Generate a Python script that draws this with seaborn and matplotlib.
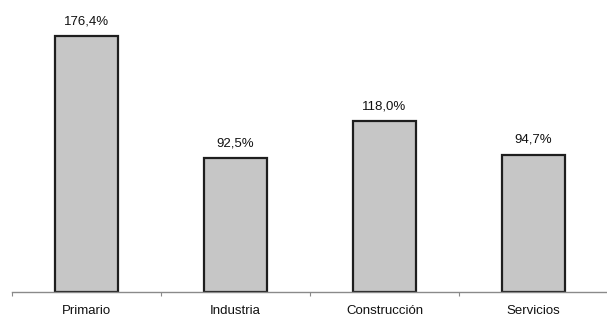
import matplotlib
matplotlib.use("Agg")
import matplotlib.pyplot as plt
import seaborn as sns
import pandas as pd
from matplotlib.ticker import FixedLocator

sectores = ["Primario", "Industria", "Construcción", "Servicios"]
variacion = [176.4, 92.5, 118.0, 94.7]
etiquetas = ["176,4%", "92,5%", "118,0%", "94,7%"]

sns.set_theme(style="white")
plt.rcParams["font.family"] = ["Liberation Sans", "DejaVu Sans"]

df = pd.DataFrame({"sector": sectores, "valor": variacion})

fig = plt.figure(figsize=(6.07, 3.2), dpi=100)
ax = fig.add_axes([12 / 607, 28 / 320, 596 / 607, 292 / 320])

sns.barplot(data=df, x="sector", y="valor", ax=ax, color="#c6c6c6",
            saturation=1, width=0.42, edgecolor="#1e1e1e", linewidth=1.6)

for i, (v, t) in enumerate(zip(variacion, etiquetas)):
    ax.text(i, v + 6, t, ha="center", va="bottom", fontsize=9.5, color="#111111")

ax.set_xlim(-0.5, 3.5)
ax.set_ylim(0, 201.2)
ax.set_xlabel("")
ax.set_ylabel("")
ax.set_yticks([])
for side in ["top", "right", "left"]:
    ax.spines[side].set_visible(False)
ax.spines["bottom"].set_color("#8a8a8a")
ax.spines["bottom"].set_linewidth(1.0)

ax.tick_params(axis="x", which="major", length=0, pad=9, labelsize=9.5,
               labelcolor="#111111")
ax.xaxis.set_minor_locator(FixedLocator([-0.5, 0.5, 1.5, 2.5, 3.5]))
ax.tick_params(axis="x", which="minor", bottom=True, length=3, width=0.8,
               color="#8a8a8a", direction="out")

fig.savefig("out.png", dpi=100)
